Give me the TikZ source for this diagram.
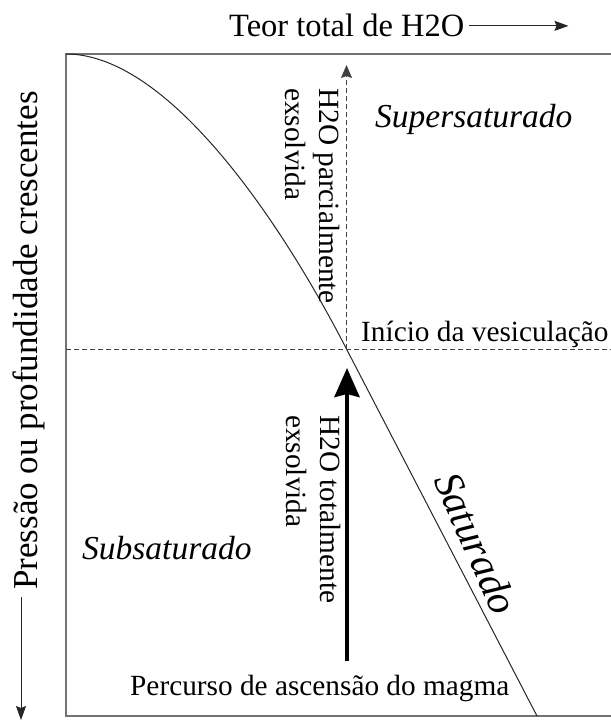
\documentclass[tikz,border=0pt]{standalone}
\usepackage{fontspec}
\setmainfont{Liberation Serif}
\usetikzlibrary{arrows.meta}
\begin{document}
\begin{tikzpicture}[x=1pt,y=-1pt,
  boxline/.style={draw=black!55, line width=1.6pt},
  curveline/.style={draw=black!85, line width=1pt},
  dashline/.style={draw=black!75, line width=0.9pt, dash pattern=on 5pt off 3pt},
  thinarrow/.style={draw=black!85, line width=1pt, -{Stealth[length=14pt,width=10pt,inset=2pt]}},
  lbl/.style={inner sep=0pt, font=\fontsize{29.3}{34}\selectfont},
  ital/.style={inner sep=0pt, font=\fontsize{33.5}{38}\selectfont\itshape},
]
\useasboundingbox (0,0) rectangle (610,722);
% frame
\coordinate (tl) at (66,54);
\coordinate (bl) at (66,716);
\coordinate (tr) at (612,54);
\coordinate (br) at (612,716);
\draw[boxline] (tr) -- (tl) -- (bl) -- (br);
% saturation curve
\coordinate (ves) at (346.5,349);
\coordinate (sat) at (537,716);
\draw[curveline] (tl) .. controls (166,54) and (277,214) .. (ves) -- (sat);
% vesiculation level
\coordinate (hl) at (66,349);
\coordinate (hr) at (612,349);
\draw[dashline] (hl) -- (hr);
% dashed arrow
\coordinate (vtop) at (346.5,65);
\draw[dashline, -{Stealth[length=13pt,width=11pt,inset=2pt]}] (ves) -- (vtop);
% thick arrow
\coordinate (pbot) at (347,661);
\coordinate (ptop) at (347,368);
\draw[line width=4.3pt, -{Stealth[length=29pt,width=25pt,inset=3pt]}] (pbot) -- (ptop);
% labels
\node[inner sep=0pt, font=\fontsize{32.5}{38}\selectfont, anchor=base west] (teor) at (229,37) {Teor total de H2O};
\draw[thinarrow] ([xshift=5pt]teor.east) -- ([xshift=104pt]teor.east);
\node[inner sep=0pt, font=\fontsize{35}{40}\selectfont, rotate=90, anchor=base west] (press) at (37,590) {Pressão ou profundidade crescentes};
\coordinate (ps) at (21,597);
\coordinate (pe) at (21,720);
\draw[thinarrow] (ps) -- (pe);
\node[lbl, anchor=base west] (ini) at (361,341.7) {Início da vesiculação};
\node[lbl, anchor=base west] (perc) at (130,695) {Percurso de ascensão do magma};
\node[ital, anchor=base west] (super) at (375,128) {Supersaturado};
\node[ital, anchor=base west] (sub) at (82,559) {Subsaturado};
\node[lbl, rotate=-90, anchor=north west, align=left] (parc) at (340,88) {H2O parcialmente\\exsolvida};
\node[lbl, rotate=-90, anchor=north west, align=left] (tot) at (341,415) {H2O totalmente\\exsolvida};
\node[inner sep=0pt, font=\fontsize{41}{46}\selectfont\itshape, rotate=-66, anchor=base west] (satl) at (433,480) {Saturado};
\end{tikzpicture}
\end{document}
